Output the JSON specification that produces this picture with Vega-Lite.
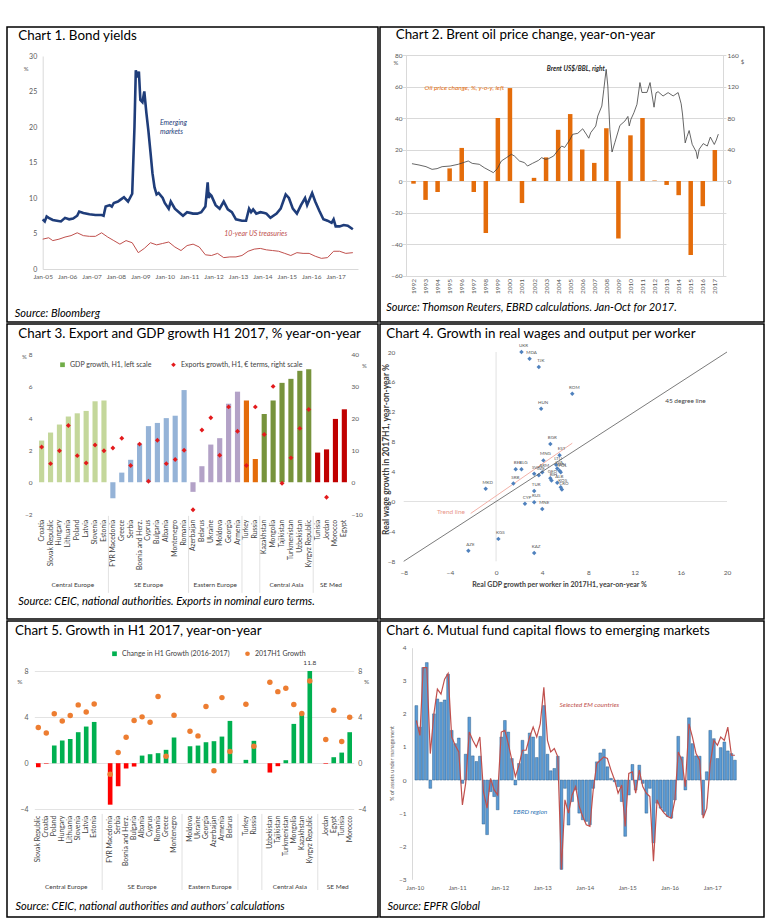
{
"$schema": "https://vega.github.io/schema/vega-lite/v6.json",
"background": "white",
"padding": {"left": 6, "top": 26, "right": 2, "bottom": 2},
"spacing": 0,
"resolve": {"scale": {"color": "independent", "fill": "independent", "shape": "independent"}, "legend": {"color": "independent", "shape": "independent"}},
"config": {
  "view": {"stroke": "#000000", "strokeWidth": 1.5},
  "font": "Lato",
  "axis": {"labelFont": "Lato", "labelColor": "#595959", "titleFont": "Lato", "titleColor": "#595959", "titleFontWeight": "normal", "ticks": false, "domain": false, "grid": false, "labelOverlap": false, "labelFlush": false},
  "legend": {"labelFont": "Lato"},
  "concat": {"spacing": 0}
},
"datasets": {
  "c1em": [
    {"d":"2005-01-01","v":7.0},{"d":"2005-02-01","v":6.7},{"d":"2005-03-01","v":7.4},{"d":"2005-04-01","v":7.2},{"d":"2005-06-01","v":6.9},{"d":"2005-08-01","v":6.8},{"d":"2005-10-01","v":6.7},{"d":"2005-12-01","v":7.2},
    {"d":"2006-02-01","v":7.0},{"d":"2006-04-01","v":7.1},{"d":"2006-06-01","v":7.5},{"d":"2006-07-01","v":8.1},{"d":"2006-09-01","v":7.9},{"d":"2006-12-01","v":7.7},
    {"d":"2007-03-01","v":7.6},{"d":"2007-06-01","v":7.6},{"d":"2007-07-01","v":7.5},{"d":"2007-08-01","v":8.8},{"d":"2007-10-01","v":9.0},{"d":"2007-11-01","v":8.8},{"d":"2007-12-01","v":9.3},
    {"d":"2008-02-01","v":9.5},{"d":"2008-03-01","v":9.7},{"d":"2008-05-01","v":10.1},{"d":"2008-07-01","v":9.5},{"d":"2008-09-01","v":10.6},{"d":"2008-10-05","v":20.0},{"d":"2008-10-25","v":28.0},{"d":"2008-11-15","v":27.0},{"d":"2008-12-10","v":27.8},
    {"d":"2009-01-01","v":23.8},{"d":"2009-02-01","v":23.5},{"d":"2009-03-01","v":25.0},{"d":"2009-04-01","v":22.0},{"d":"2009-05-01","v":19.5},{"d":"2009-06-01","v":16.5},{"d":"2009-07-01","v":13.5},{"d":"2009-08-01","v":11.5},{"d":"2009-09-01","v":10.5},{"d":"2009-10-01","v":10.7},{"d":"2009-12-01","v":10.0},
    {"d":"2010-01-01","v":9.3},{"d":"2010-03-01","v":8.5},{"d":"2010-04-01","v":9.5},{"d":"2010-06-01","v":8.5},{"d":"2010-08-01","v":8.0},{"d":"2010-10-01","v":7.5},{"d":"2010-12-01","v":8.0},
    {"d":"2011-03-01","v":7.8},{"d":"2011-05-01","v":7.8},{"d":"2011-07-01","v":8.0},{"d":"2011-09-01","v":8.8},{"d":"2011-10-05","v":12.2},{"d":"2011-10-20","v":10.0},{"d":"2011-11-10","v":10.5},{"d":"2011-12-01","v":10.3},
    {"d":"2012-02-01","v":9.0},{"d":"2012-04-01","v":8.5},{"d":"2012-06-01","v":9.5},{"d":"2012-08-01","v":8.4},{"d":"2012-10-01","v":8.0},{"d":"2012-12-01","v":7.0},
    {"d":"2013-03-01","v":6.8},{"d":"2013-05-01","v":6.8},{"d":"2013-06-15","v":8.5},{"d":"2013-07-15","v":8.0},{"d":"2013-08-15","v":8.4},{"d":"2013-10-01","v":7.8},{"d":"2013-12-01","v":8.0},
    {"d":"2014-02-01","v":7.9},{"d":"2014-03-01","v":7.8},{"d":"2014-05-01","v":7.2},{"d":"2014-08-01","v":7.8},{"d":"2014-10-01","v":8.5},{"d":"2014-12-15","v":10.5},
    {"d":"2015-02-01","v":10.0},{"d":"2015-04-01","v":8.5},{"d":"2015-06-01","v":7.8},{"d":"2015-08-01","v":9.0},{"d":"2015-10-01","v":10.0},{"d":"2015-11-01","v":9.0},
    {"d":"2016-01-15","v":10.7},{"d":"2016-03-01","v":9.5},{"d":"2016-05-01","v":8.2},{"d":"2016-07-01","v":7.0},{"d":"2016-09-01","v":6.8},{"d":"2016-11-01","v":6.5},{"d":"2016-12-01","v":7.0},
    {"d":"2017-01-01","v":6.0},{"d":"2017-03-01","v":6.0},{"d":"2017-05-01","v":6.2},{"d":"2017-07-01","v":6.1},{"d":"2017-09-15","v":5.6}
  ],
  "c1us": [
    {"d":"2005-01-01","v":4.2},{"d":"2005-04-01","v":4.4},{"d":"2005-06-01","v":4.0},{"d":"2005-09-01","v":4.2},{"d":"2005-12-01","v":4.5},
    {"d":"2006-03-01","v":4.7},{"d":"2006-06-01","v":5.1},{"d":"2006-09-01","v":4.7},{"d":"2006-12-01","v":4.6},
    {"d":"2007-03-01","v":4.6},{"d":"2007-06-01","v":5.1},{"d":"2007-09-01","v":4.5},{"d":"2007-12-01","v":4.0},
    {"d":"2008-03-01","v":3.5},{"d":"2008-06-01","v":4.0},{"d":"2008-09-01","v":3.7},{"d":"2008-12-01","v":2.3},
    {"d":"2009-03-01","v":2.9},{"d":"2009-06-01","v":3.7},{"d":"2009-09-01","v":3.4},{"d":"2009-12-01","v":3.6},
    {"d":"2010-03-01","v":3.8},{"d":"2010-06-01","v":3.1},{"d":"2010-09-01","v":2.6},{"d":"2010-12-01","v":3.3},
    {"d":"2011-03-01","v":3.5},{"d":"2011-06-01","v":3.1},{"d":"2011-09-01","v":2.0},{"d":"2011-12-01","v":1.9},
    {"d":"2012-03-01","v":2.2},{"d":"2012-06-01","v":1.6},{"d":"2012-09-01","v":1.7},{"d":"2012-12-01","v":1.7},
    {"d":"2013-03-01","v":1.9},{"d":"2013-06-01","v":2.5},{"d":"2013-09-01","v":2.8},{"d":"2013-12-01","v":2.9},
    {"d":"2014-03-01","v":2.7},{"d":"2014-06-01","v":2.6},{"d":"2014-09-01","v":2.5},{"d":"2014-12-01","v":2.2},
    {"d":"2015-03-01","v":1.9},{"d":"2015-06-01","v":2.3},{"d":"2015-09-01","v":2.2},{"d":"2015-12-01","v":2.2},
    {"d":"2016-03-01","v":1.8},{"d":"2016-06-01","v":1.5},{"d":"2016-09-01","v":1.6},{"d":"2016-12-01","v":2.5},
    {"d":"2017-03-01","v":2.5},{"d":"2017-06-01","v":2.2},{"d":"2017-09-15","v":2.3}
  ],
  "c2bar": [
    {"d":"1992-07-01","v":-1.7},{"d":"1993-07-01","v":-12},{"d":"1994-07-01","v":-7},{"d":"1995-07-01","v":8},{"d":"1996-07-01","v":21},{"d":"1997-07-01","v":-7},{"d":"1998-07-01","v":-33},{"d":"1999-07-01","v":40},{"d":"2000-07-01","v":59},{"d":"2001-07-01","v":-14},{"d":"2002-07-01","v":2},{"d":"2003-07-01","v":15},{"d":"2004-07-01","v":32.5},
    {"d":"2005-07-01","v":42.5},{"d":"2006-07-01","v":20},{"d":"2007-07-01","v":11.5},{"d":"2008-07-01","v":33.5},{"d":"2009-07-01","v":-36.5},{"d":"2010-07-01","v":29},{"d":"2011-07-01","v":40},{"d":"2012-07-01","v":0.3},{"d":"2013-07-01","v":-2.5},{"d":"2014-07-01","v":-9},{"d":"2015-07-01","v":-47},{"d":"2016-07-01","v":-16},{"d":"2017-07-01","v":19.7}
  ],
  "c2oil": [
    {"d":"1992-05-15","v":22.0},{"d":"1992-12-15","v":20.3},{"d":"1993-07-15","v":18.2},{"d":"1994-01-15","v":14.8},{"d":"1994-06-15","v":15.7},{"d":"1994-11-15","v":18.2},{"d":"1995-07-15","v":19.0},{"d":"1996-03-15","v":21.2},{"d":"1996-08-15","v":23.3},
    {"d":"1997-01-15","v":25.4},{"d":"1997-05-15","v":22.4},{"d":"1997-12-15","v":21.2},{"d":"1998-05-15","v":16.9},{"d":"1998-11-15","v":12.7},{"d":"1999-02-15","v":10.6},{"d":"1999-06-15","v":15.7},{"d":"1999-10-15","v":25.4},
    {"d":"2000-03-15","v":29.6},{"d":"2000-08-15","v":33.9},{"d":"2000-11-15","v":31.7},{"d":"2001-04-15","v":25.4},{"d":"2001-09-15","v":23.3},{"d":"2001-12-15","v":19.0},{"d":"2002-05-15","v":22.4},{"d":"2002-11-15","v":26.2},
    {"d":"2003-02-15","v":29.6},{"d":"2003-06-15","v":27.5},{"d":"2003-09-15","v":28.4},{"d":"2004-02-15","v":31.7},{"d":"2004-05-15","v":36.8},{"d":"2004-10-15","v":44.4},{"d":"2005-01-15","v":42.6},{"d":"2005-06-15","v":52.1},{"d":"2005-09-15","v":59.3},
    {"d":"2006-02-15","v":60.5},{"d":"2006-07-15","v":66.3},{"d":"2006-11-15","v":58.5},{"d":"2007-01-15","v":54.3},{"d":"2007-03-15","v":61.4},{"d":"2007-08-15","v":69.8},{"d":"2007-10-15","v":82.5},
    {"d":"2008-02-15","v":95.2},{"d":"2008-04-15","v":116.4},{"d":"2008-06-25","v":141.8},{"d":"2008-08-15","v":120.6},{"d":"2008-10-15","v":65.6},{"d":"2008-12-20","v":36.8},{"d":"2009-03-15","v":48.7},{"d":"2009-08-15","v":70.5},
    {"d":"2010-01-15","v":76.2},{"d":"2010-04-15","v":82.0},{"d":"2010-05-25","v":70.0},{"d":"2010-07-15","v":78.3},{"d":"2010-10-15","v":86.8},{"d":"2011-01-15","v":97.4},{"d":"2011-04-15","v":125},{"d":"2011-06-15","v":112.4},{"d":"2011-11-15","v":112.5},
    {"d":"2012-02-15","v":125},{"d":"2012-06-15","v":93.7},{"d":"2012-08-15","v":112},{"d":"2012-10-15","v":113.4},{"d":"2013-03-15","v":107.9},{"d":"2013-08-15","v":112.2},
    {"d":"2014-01-15","v":108},{"d":"2014-06-15","v":112.3},{"d":"2014-09-15","v":98},{"d":"2014-10-25","v":85.1},{"d":"2015-01-15","v":48.4},{"d":"2015-03-15","v":56.7},{"d":"2015-05-15","v":64.1},{"d":"2015-08-15","v":46.6},
    {"d":"2015-12-15","v":37.0},{"d":"2016-01-20","v":28.4},{"d":"2016-03-15","v":40.4},{"d":"2016-07-15","v":47.5},{"d":"2016-11-15","v":44.4},{"d":"2017-02-15","v":55.8},{"d":"2017-06-15","v":46.4},{"d":"2017-08-15","v":52.1},{"d":"2017-10-15","v":59.5}
  ],
  "c3": [
    {"country":"Croatia","r":"CE","gdp":2.6,"exp":11.0},{"country":"Slovak Republic","r":"CE","gdp":3.1,"exp":5.8},{"country":"Hungary","r":"CE","gdp":3.6,"exp":9.8},{"country":"Lithuania","r":"CE","gdp":4.1,"exp":17.7},
    {"country":"Poland","r":"CE","gdp":4.3,"exp":8.3},{"country":"Latvia","r":"CE","gdp":4.45,"exp":6.0},{"country":"Slovenia","r":"CE","gdp":5.05,"exp":11.6},{"country":"Estonia","r":"CE","gdp":5.1,"exp":9.8},
    {"country":"FYR Macedonia","r":"SEE","gdp":-1.0,"exp":10.7},{"country":"Greece","r":"SEE","gdp":0.6,"exp":13.7},{"country":"Serbia","r":"SEE","gdp":1.4,"exp":5.2},{"country":"Bosnia and Herz.","r":"SEE","gdp":2.4,"exp":11.9},
    {"country":"Cyprus","r":"SEE","gdp":3.5,"exp":0.3},{"country":"Bulgaria","r":"SEE","gdp":3.7,"exp":13.1},{"country":"Albania","r":"SEE","gdp":4.0,"exp":5.8},{"country":"Montenegro","r":"SEE","gdp":4.15,"exp":7.1},{"country":"Romania","r":"SEE","gdp":5.75,"exp":10.0},
    {"country":"Azerbaijan","r":"EEC","gdp":-0.6,"exp":-8.6},{"country":"Belarus","r":"EEC","gdp":1.0,"exp":16.3},{"country":"Ukraine","r":"EEC","gdp":2.35,"exp":20.1},{"country":"Moldova","r":"EEC","gdp":2.75,"exp":8.4},{"country":"Georgia","r":"EEC","gdp":4.9,"exp":23.5},{"country":"Armenia","r":"EEC","gdp":5.65,"exp":15.9},
    {"country":"Turkey","r":"TR","gdp":5.1,"exp":5.2},{"country":"Russia","r":"TR","gdp":1.45,"exp":23.5},
    {"country":"Kazakhstan","r":"CA","gdp":4.25,"exp":14.9},{"country":"Mongolia","r":"CA","gdp":5.1,"exp":29.9},{"country":"Tajikistan","r":"CA","gdp":6.2,"exp":-0.3},{"country":"Turkmenistan","r":"CA","gdp":6.45,"exp":7.6},{"country":"Uzbekistan","r":"CA","gdp":6.95,"exp":16.8},{"country":"Kyrgyz Republic","r":"CA","gdp":7.05,"exp":22.7},
    {"country":"Tunisia","r":"MED","gdp":1.85,"exp":null},{"country":"Jordan","r":"MED","gdp":2.05,"exp":-4.7},{"country":"Morocco","r":"MED","gdp":3.95,"exp":null},{"country":"Egypt","r":"MED","gdp":4.55,"exp":null}
  ],
  "c4": [
    {"code":"UKR","gx":2.2,"wg":20.0},{"code":"MDA","gx":2.9,"wg":19.1},{"code":"TJK","gx":3.7,"wg":18.0},{"code":"ROM","gx":6.6,"wg":14.4},{"code":"HUN","gx":3.9,"wg":12.4},{"code":"BGR","gx":4.7,"wg":7.7},
    {"code":"EST","gx":5.5,"wg":6.2},{"code":"MNG","gx":4.1,"wg":5.5},{"code":"LTU","gx":5.2,"wg":4.9},{"code":"LVA","gx":5.3,"wg":4.4},{"code":"SVN","gx":5.5,"wg":4.1},{"code":"POL","gx":5.6,"wg":3.9},
    {"code":"BEL","gx":1.7,"wg":4.3},{"code":"BLG","gx":2.2,"wg":4.3},{"code":"SVK","gx":3.3,"wg":3.7},{"code":"CZE","gx":3.7,"wg":3.5},{"code":"ARM","gx":4.0,"wg":3.9},{"code":"GEO","gx":4.7,"wg":3.1},
    {"code":"BIH","gx":4.8,"wg":2.8},{"code":"ALB","gx":5.3,"wg":2.5},{"code":"CRO","gx":5.7,"wg":1.6},{"code":"KOS","gx":5.6,"wg":1.9},{"code":"SRB","gx":1.5,"wg":2.4},{"code":"MKD","gx":-0.9,"wg":1.7},
    {"code":"TUR","gx":3.3,"wg":1.4},{"code":"CYP","gx":2.5,"wg":-0.3},{"code":"RUS","gx":3.3,"wg":-0.1},{"code":"MNE","gx":4.0,"wg":-1.0},{"code":"KGS","gx":0.2,"wg":-5.0},{"code":"AZE","gx":-2.4,"wg":-6.6},{"code":"KAZ","gx":3.3,"wg":-6.9}
  ],
  "c5": [
    {"country":"Slovak Republic","chg":-0.35,"g17":3.1},{"country":"Croatia","chg":-0.05,"g17":2.63},{"country":"Poland","chg":1.53,"g17":4.3},{"country":"Hungary","chg":1.97,"g17":3.67},{"country":"Lithuania","chg":2.11,"g17":4.13},{"country":"Slovenia","chg":2.69,"g17":5.06},{"country":"Latvia","chg":3.18,"g17":4.45},{"country":"Estonia","chg":3.58,"g17":5.14},
    {"country":"FYR Macedonia","chg":-3.6,"g17":-0.95},{"country":"Serbia","chg":-2.0,"g17":0.92},{"country":"Bosnia and Herz.","chg":-0.46,"g17":2.25},{"country":"Bulgaria","chg":-0.29,"g17":3.7},{"country":"Albania","chg":0.66,"g17":4.02},{"country":"Cyprus","chg":0.78,"g17":3.55},{"country":"Romania","chg":0.87,"g17":5.78},{"country":"Greece","chg":1.16,"g17":0.61},{"country":"Montenegro","chg":2.23,"g17":4.16},
    {"country":"Moldova","chg":1.47,"g17":2.77},{"country":"Ukraine","chg":1.53,"g17":2.37},{"country":"Georgia","chg":1.82,"g17":4.91},{"country":"Azerbaijan","chg":1.91,"g17":-0.66},{"country":"Armenia","chg":2.31,"g17":5.69},{"country":"Belarus","chg":3.67,"g17":1.01},
    {"country":"Turkey","chg":0.29,"g17":5.12},{"country":"Russia","chg":1.94,"g17":1.47},
    {"country":"Uzbekistan","chg":-0.81,"g17":7.02},{"country":"Tajikistan","chg":-0.26,"g17":6.21},{"country":"Turkmenistan","chg":0.26,"g17":6.5},{"country":"Mongolia","chg":3.41,"g17":5.09},{"country":"Kazakhstan","chg":4.31,"g17":4.31},{"country":"Kyrgyz Republic","chg":11.8,"g17":7.14},
    {"country":"Jordan","chg":-0.05,"g17":2.05},{"country":"Egypt","chg":0.52,"g17":4.6},{"country":"Tunisia","chg":0.92,"g17":1.88},{"country":"Morocco","chg":2.69,"g17":3.99}
  ],
  "c6": [
    {"d":"2010-01-15","ebrd":2.25,"em":1.8},{"d":"2010-02-15","ebrd":1.6,"em":1.35},{"d":"2010-03-15","ebrd":3.4,"em":3.4},{"d":"2010-04-15","ebrd":3.55,"em":3.4},{"d":"2010-05-15","ebrd":-0.25,"em":0.8},{"d":"2010-06-15","ebrd":2.0,"em":2.0},
    {"d":"2010-07-15","ebrd":2.45,"em":2.75},{"d":"2010-08-15","ebrd":2.35,"em":2.6},{"d":"2010-09-15","ebrd":2.42,"em":3.05},{"d":"2010-10-15","ebrd":3.2,"em":3.22},{"d":"2010-11-15","ebrd":1.5,"em":1.3},{"d":"2010-12-15","ebrd":1.1,"em":1.05},
    {"d":"2011-01-15","ebrd":1.27,"em":0.85},{"d":"2011-02-15","ebrd":-0.1,"em":-0.75},{"d":"2011-03-15","ebrd":0.78,"em":-0.1},{"d":"2011-04-15","ebrd":1.9,"em":1.45},{"d":"2011-05-15","ebrd":0.73,"em":1.2},{"d":"2011-06-15","ebrd":0.56,"em":1.0},
    {"d":"2011-07-15","ebrd":0.72,"em":1.3},{"d":"2011-08-15","ebrd":-1.33,"em":-0.35},{"d":"2011-09-15","ebrd":-1.65,"em":-0.85},{"d":"2011-10-15","ebrd":-0.35,"em":0.05},{"d":"2011-11-15","ebrd":-0.5,"em":-0.3},{"d":"2011-12-15","ebrd":-0.9,"em":-0.45},
    {"d":"2012-01-15","ebrd":1.3,"em":1.45},{"d":"2012-02-15","ebrd":1.8,"em":1.5},{"d":"2012-03-15","ebrd":1.45,"em":1.1},{"d":"2012-04-15","ebrd":0.65,"em":0.6},{"d":"2012-05-15","ebrd":-0.15,"em":0.1},{"d":"2012-06-15","ebrd":0.5,"em":0.45},
    {"d":"2012-07-15","ebrd":1.2,"em":0.9},{"d":"2012-08-15","ebrd":0.78,"em":0.9},{"d":"2012-09-15","ebrd":1.42,"em":1.3},{"d":"2012-10-15","ebrd":1.3,"em":1.6},{"d":"2012-11-15","ebrd":0.68,"em":1.3},{"d":"2012-12-15","ebrd":1.32,"em":1.7},
    {"d":"2013-01-15","ebrd":2.25,"em":2.8},{"d":"2013-02-15","ebrd":0.78,"em":1.2},{"d":"2013-03-15","ebrd":0.28,"em":0.85},{"d":"2013-04-15","ebrd":0.35,"em":0.95},{"d":"2013-05-15","ebrd":0.72,"em":0.7},{"d":"2013-06-15","ebrd":-2.7,"em":-2.7},
    {"d":"2013-07-15","ebrd":-0.25,"em":-0.6},{"d":"2013-08-15","ebrd":-1.36,"em":-1.0},{"d":"2013-09-15","ebrd":-0.65,"em":-0.45},{"d":"2013-10-15","ebrd":-0.3,"em":-0.2},{"d":"2013-11-15","ebrd":-1.0,"em":-0.8},{"d":"2013-12-15","ebrd":-1.2,"em":-1.1},
    {"d":"2014-01-15","ebrd":-1.25,"em":-1.35},{"d":"2014-02-15","ebrd":-1.35,"em":-1.4},{"d":"2014-03-15","ebrd":-0.25,"em":-0.3},{"d":"2014-04-15","ebrd":0.55,"em":0.5},{"d":"2014-05-15","ebrd":0.82,"em":0.6},{"d":"2014-06-15","ebrd":0.93,"em":0.7},
    {"d":"2014-07-15","ebrd":0.4,"em":0.65},{"d":"2014-08-15","ebrd":0.05,"em":0.3},{"d":"2014-09-15","ebrd":-0.05,"em":0.0},{"d":"2014-10-15","ebrd":-0.2,"em":-0.4},{"d":"2014-11-15","ebrd":-0.65,"em":-0.15},{"d":"2014-12-15","ebrd":-1.7,"em":-1.4},
    {"d":"2015-01-15","ebrd":-0.45,"em":0.2},{"d":"2015-02-15","ebrd":0.47,"em":0.25},{"d":"2015-03-15","ebrd":-0.3,"em":-0.4},{"d":"2015-04-15","ebrd":0.45,"em":0.3},{"d":"2015-05-15","ebrd":-0.1,"em":-0.2},{"d":"2015-06-15","ebrd":-1.0,"em":-0.4},
    {"d":"2015-07-15","ebrd":-0.25,"em":-0.5},{"d":"2015-08-15","ebrd":-1.9,"em":-2.45},{"d":"2015-09-15","ebrd":-0.7,"em":-0.6},{"d":"2015-10-15","ebrd":-0.85,"em":-0.85},{"d":"2015-11-15","ebrd":-0.95,"em":-1.0},{"d":"2015-12-15","ebrd":-1.1,"em":-1.1},
    {"d":"2016-01-15","ebrd":-1.15,"em":-1.15},{"d":"2016-02-15","ebrd":-0.6,"em":-0.6},{"d":"2016-03-15","ebrd":1.32,"em":0.85},{"d":"2016-04-15","ebrd":0.7,"em":0.6},{"d":"2016-05-15","ebrd":-0.3,"em":-0.2},{"d":"2016-06-15","ebrd":1.88,"em":1.7},
    {"d":"2016-07-15","ebrd":1.1,"em":1.3},{"d":"2016-08-15","ebrd":0.73,"em":0.8},{"d":"2016-09-15","ebrd":0.72,"em":0.6},{"d":"2016-10-15","ebrd":-1.05,"em":-1.15},{"d":"2016-11-15","ebrd":0.25,"em":-0.85},{"d":"2016-12-15","ebrd":1.5,"em":0.5},
    {"d":"2017-01-15","ebrd":1.25,"em":1.2},{"d":"2017-02-15","ebrd":0.65,"em":1.05},{"d":"2017-03-15","ebrd":0.98,"em":1.3},{"d":"2017-04-15","ebrd":1.15,"em":1.2},{"d":"2017-05-15","ebrd":0.88,"em":1.6},{"d":"2017-06-15","ebrd":0.8,"em":0.75},{"d":"2017-07-15","ebrd":0.6,"em":0.75}
  ]
},
"vconcat": [
 {"hconcat": [
  {
    "width": 371, "height": 295,
    "title": {"text": "Chart 1. Bond yields", "orient": "bottom", "anchor": "start", "frame": "group", "baseline": "alphabetic", "offset": -282.5, "dx": 11.3, "font": "Lato", "fontSize": 13.4, "fontWeight": "normal", "color": "#000000"},
    "encoding": {
      "x": {"field": "d", "type": "temporal", "title": "Source: Bloomberg",
        "scale": {"type": "utc", "domain": [{"year": 2005, "month": 1, "date": 1, "utc": true}, {"year": 2017, "month": 12, "date": 1, "utc": true}], "range": [35.7, 351]},
        "axis": {"offset": -53, "format": "%b-%y", "tickCount": {"interval": "year", "step": 1}, "labelFontSize": 6.5, "labelPadding": 4, "domain": true, "domainColor": "#d9d9d9",
          "titleX": 7.3, "titleY": 47, "titleAlign": "left", "titleBaseline": "alphabetic", "titleFontSize": 11, "titleFontStyle": "italic", "titleColor": "#000000"}},
      "y": {"field": "v", "type": "quantitative", "title": "%",
        "scale": {"domain": [0, 30], "range": [242, 29], "nice": false, "zero": false},
        "axis": {"offset": -35.7, "values": [0, 5, 10, 15, 20, 25, 30], "labelFontSize": 7, "labelPadding": 6, "domain": true, "domainColor": "#d9d9d9", "titleAngle": 0, "titleX": -17, "titleY": 41, "titleAlign": "center", "titleBaseline": "middle", "titleFontSize": 6}}
    },
    "layer": [
      {"data": {"name": "c1us"}, "mark": {"type": "line", "color": "#c0504d", "strokeWidth": 1}},
      {"data": {"name": "c1em"}, "mark": {"type": "line", "color": "#1f3d7a", "strokeWidth": 2.6}},
      {"data": {"values": [{"d": "2009-10-20", "v": 20.6, "t": "Emerging\nmarkets", "c": "em"}, {"d": "2012-06-10", "v": 5.0, "t": "10-year US treasuries", "c": "us"}]},
       "mark": {"type": "text", "fontStyle": "italic", "fontSize": 7, "lineBreak": "\n", "align": "left"},
       "encoding": {"text": {"field": "t"}, "color": {"field": "c", "type": "nominal", "scale": {"domain": ["em", "us"], "range": ["#1f3d7a", "#c0504d"]}, "legend": null}}}
    ]
  },
  {
    "width": 384, "height": 295,
    "title": {"text": "Chart 2. Brent oil price change, year-on-year", "orient": "bottom", "anchor": "start", "frame": "group", "baseline": "alphabetic", "offset": -282.7, "dx": 15.7, "font": "Lato", "fontSize": 13.4, "fontWeight": "normal", "color": "#000000"},
    "encoding": {
      "x": {"field": "d", "type": "temporal", "title": "Source: Thomson Reuters, EBRD calculations. Jan-Oct for 2017.",
        "scale": {"type": "utc", "domain": [{"year": 1992, "month": 1, "date": 1, "utc": true}, {"year": 2018, "month": 1, "date": 1, "utc": true}], "range": [22.5, 345.9]},
        "axis": {"offset": -46.5, "format": "%Y", "labelAngle": -90, "labelFontSize": 6.5, "labelPadding": 3,
          "titleX": 5.7, "titleY": 34.5, "titleAlign": "left", "titleBaseline": "alphabetic", "titleFontSize": 11, "titleFontStyle": "italic", "titleColor": "#000000",
          "values": [{"year":1992,"month":7,"date":1,"utc":true},{"year":1993,"month":7,"date":1,"utc":true},{"year":1994,"month":7,"date":1,"utc":true},{"year":1995,"month":7,"date":1,"utc":true},{"year":1996,"month":7,"date":1,"utc":true},{"year":1997,"month":7,"date":1,"utc":true},{"year":1998,"month":7,"date":1,"utc":true},{"year":1999,"month":7,"date":1,"utc":true},{"year":2000,"month":7,"date":1,"utc":true},{"year":2001,"month":7,"date":1,"utc":true},{"year":2002,"month":7,"date":1,"utc":true},{"year":2003,"month":7,"date":1,"utc":true},{"year":2004,"month":7,"date":1,"utc":true},{"year":2005,"month":7,"date":1,"utc":true},{"year":2006,"month":7,"date":1,"utc":true},{"year":2007,"month":7,"date":1,"utc":true},{"year":2008,"month":7,"date":1,"utc":true},{"year":2009,"month":7,"date":1,"utc":true},{"year":2010,"month":7,"date":1,"utc":true},{"year":2011,"month":7,"date":1,"utc":true},{"year":2012,"month":7,"date":1,"utc":true},{"year":2013,"month":7,"date":1,"utc":true},{"year":2014,"month":7,"date":1,"utc":true},{"year":2015,"month":7,"date":1,"utc":true},{"year":2016,"month":7,"date":1,"utc":true},{"year":2017,"month":7,"date":1,"utc":true}]}}
    },
    "layer": [
      {"layer": [
        {"data": {"name": "c2bar"}, "mark": {"type": "bar", "color": "#e46c0a", "width": 4.5},
         "encoding": {"y": {"field": "v", "type": "quantitative", "title": "%",
           "scale": {"domain": [-60, 80], "range": [248.5, 28], "nice": false, "zero": false},
           "axis": {"offset": -26, "values": [-60, -40, -20, 0, 20, 40, 60, 80], "grid": true, "gridColor": "#d9d9d9", "domain": true, "domainColor": "#d9d9d9", "labelFontSize": 6.5, "labelPadding": 4, "titleAngle": 0, "titleX": -10.7, "titleY": 35, "titleAlign": "center", "titleBaseline": "middle", "titleFontSize": 6}}}},
        {"data": {"values": [{"d": "1996-09-20", "v": 58.9, "t": "Oil price change, %, y-o-y, left"}]},
         "mark": {"type": "text", "color": "#e46c0a", "fontStyle": "italic", "fontSize": 6.5},
         "encoding": {"y": {"field": "v", "type": "quantitative"}, "text": {"field": "t"}}}
      ]},
      {"layer": [
        {"data": {"name": "c2oil"}, "mark": {"type": "line", "color": "#404040", "strokeWidth": 0.8},
         "encoding": {"y": {"field": "v", "type": "quantitative", "title": "$",
           "scale": {"domain": [-120, 160], "range": [248.5, 28], "nice": false, "zero": false},
           "axis": {"orient": "right", "offset": -41, "values": [0, 20, 40, 60, 80, 100, 120, 140, 160], "domain": true, "domainColor": "#d9d9d9", "labelFontSize": 6.5, "labelPadding": 4, "titleAngle": 0, "titleX": 19, "titleY": 34, "titleAlign": "center", "titleBaseline": "middle", "titleFontSize": 6}}}},
        {"data": {"values": [{"d": "2005-12-20", "v": 141.8, "t": "Brent US$/BBL, right"}]},
         "mark": {"type": "text", "color": "#262626", "fontStyle": "italic", "fontWeight": "bold", "fontSize": 6.5},
         "encoding": {"y": {"field": "v", "type": "quantitative"}, "text": {"field": "t"}}}
      ]}
    ],
    "resolve": {"scale": {"y": "independent"}}
  }
 ],
 "resolve": {"scale": {"color": "independent", "fill": "independent", "shape": "independent"}, "legend": {"color": "independent", "shape": "independent"}}},
 {"hconcat": [
  {
    "width": 371, "height": 295,
    "title": {"text": "Chart 3. Export and GDP growth H1 2017, % year-on-year", "orient": "bottom", "anchor": "start", "frame": "group", "baseline": "alphabetic", "offset": -281.3, "dx": 11.3, "font": "Lato", "fontSize": 13.4, "fontWeight": "normal", "color": "#000000"},
    "encoding": {
      "x": {"field": "country", "type": "nominal", "title": "Source: CEIC, national authorities. Exports in nominal euro terms.",
        "scale": {"domain": ["Croatia","Slovak Republic","Hungary","Lithuania","Poland","Latvia","Slovenia","Estonia","FYR Macedonia","Greece","Serbia","Bosnia and Herz.","Cyprus","Bulgaria","Albania","Montenegro","Romania","Azerbaijan","Belarus","Ukraine","Moldova","Georgia","Armenia","Turkey","Russia","Kazakhstan","Mongolia","Tajikistan","Turkmenistan","Uzbekistan","Kyrgyz Republic","Tunisia","Jordan","Morocco","Egypt"], "range": [30.2, 341.8], "paddingInner": 0.42, "paddingOuter": 0.21},
        "axis": {"offset": -104.7, "labelAngle": -90, "labelFontSize": 6.8, "labelPadding": 5, "labelColor": "#404040",
          "titleX": 10.7, "titleY": 89.7, "titleAlign": "left", "titleBaseline": "alphabetic", "titleFontSize": 11, "titleFontStyle": "italic", "titleColor": "#000000"}}
    },
    "layer": [
      {"layer": [
        {"data": {"name": "c3"}, "mark": {"type": "bar"},
         "encoding": {"y": {"field": "gdp", "type": "quantitative", "title": "%",
           "scale": {"domain": [-2, 8], "range": [190.3, 30], "nice": false, "zero": false},
           "axis": {"offset": -28, "values": [-2, 0, 2, 4, 6, 8], "labelFontSize": 6.5, "labelPadding": 3, "titleAngle": 0, "titleX": -11, "titleY": 32, "titleAlign": "center", "titleBaseline": "middle", "titleFontSize": 6}},
          "fill": {"field": "r", "type": "nominal", "scale": {"domain": ["CE", "SEE", "EEC", "TR", "CA", "MED"], "range": ["#c4d79b", "#95b3d7", "#b3a2c7", "#e46c0a", "#77933c", "#c00000"]}, "legend": null}}},
        {"data": {"values": [{"country": "Poland", "g": "Central Europe"}, {"country": "Moldova", "g": "Eastern Europe"}, {"country": "Turkmenistan", "g": "Central Asia"}, {"country": "Morocco", "g": "SE Med"}]},
         "mark": {"type": "text", "fontSize": 6.5, "color": "#404040"},
         "encoding": {"x": {"field": "country", "type": "nominal", "bandPosition": -0.36, "title": "Source: CEIC, national authorities. Exports in nominal euro terms."}, "y": {"datum": -6.41, "type": "quantitative"}, "text": {"field": "g"}}},
        {"data": {"values": [{"country": "Cyprus", "g": "SE Europe"}]},
         "mark": {"type": "text", "fontSize": 6.5, "color": "#404040"},
         "encoding": {"x": {"field": "country", "type": "nominal", "title": "Source: CEIC, national authorities. Exports in nominal euro terms."}, "y": {"datum": -6.41, "type": "quantitative"}, "text": {"field": "g"}}},
        {"data": {"values": [{"country": "FYR Macedonia"}, {"country": "Azerbaijan"}, {"country": "Turkey"}, {"country": "Kazakhstan"}, {"country": "Tunisia"}]},
         "mark": {"type": "rule", "color": "#d9d9d9", "strokeWidth": 0.8},
         "encoding": {"x": {"field": "country", "type": "nominal", "bandPosition": -0.36, "title": "Source: CEIC, national authorities. Exports in nominal euro terms."}, "y": {"datum": -2.1, "type": "quantitative"}, "y2": {"datum": -6.9}}}
      ]},
      {"data": {"name": "c3"}, "transform": [{"fold": ["exp"], "as": ["k", "val"]}, {"filter": "isValid(datum.val)"}],
       "mark": {"type": "point", "filled": true, "size": 24, "opacity": 1},
       "encoding": {"y": {"field": "val", "type": "quantitative", "title": "%",
         "scale": {"domain": [-10, 40], "range": [190.3, 30], "nice": false, "zero": false},
         "axis": {"orient": "right", "offset": -30, "values": [-10, 0, 10, 20, 30, 40], "labelFontSize": 6.5, "labelPadding": 3, "titleAngle": 0, "titleX": 16, "titleY": 41, "titleAlign": "center", "titleBaseline": "middle", "titleFontSize": 6}},
        "color": {"field": "k", "type": "nominal",
          "scale": {"domain": ["gdp", "exp"], "range": ["#70ad47", "#e31a1c"]},
          "legend": {"orient": "none", "legendX": 52, "legendY": 37, "direction": "horizontal", "title": null, "labelFontSize": 7, "labelColor": "#404040", "symbolSize": 22, "columnPadding": 18, "labelLimit": 300, "symbolStrokeWidth": 0,
            "labelExpr": "datum.label === 'gdp' ? 'GDP growth, H1, left scale' : 'Exports growth, H1, € terms, right scale'"}},
        "shape": {"field": "k", "type": "nominal",
          "scale": {"domain": ["gdp", "exp"], "range": ["square", "diamond"]},
          "legend": {"orient": "none", "legendX": 52, "legendY": 37, "direction": "horizontal", "title": null, "labelFontSize": 7, "labelColor": "#404040", "symbolSize": 22, "columnPadding": 18, "labelLimit": 300, "symbolStrokeWidth": 0,
            "labelExpr": "datum.label === 'gdp' ? 'GDP growth, H1, left scale' : 'Exports growth, H1, € terms, right scale'"}}}}
    ],
    "resolve": {"scale": {"y": "independent"}}
  },
  {
    "width": 384, "height": 295,
    "title": {"text": "Chart 4. Growth in real wages and output per worker", "orient": "bottom", "anchor": "start", "frame": "group", "baseline": "alphabetic", "offset": -281.3, "dx": 6.3, "font": "Lato", "fontSize": 13.4, "fontWeight": "normal", "color": "#000000"},
    "layer": [
      {"layer": [
        {"data": {"values": [{}]}, "mark": {"type": "rule", "color": "#d9d9d9", "strokeWidth": 0.8},
         "encoding": {"x": {"datum": 0, "type": "quantitative"}, "y": {"datum": -8, "type": "quantitative"}, "y2": {"datum": 20}}},
        {"data": {"values": [{}]}, "mark": {"type": "rule", "color": "#d9d9d9", "strokeWidth": 0.8},
         "encoding": {"y": {"datum": 0, "type": "quantitative"}, "x": {"datum": -8, "type": "quantitative"}, "x2": {"datum": 20}}},
        {"data": {"values": [{}]}, "mark": {"type": "rule", "color": "#f2b1a8", "strokeWidth": 1},
         "encoding": {"x": {"datum": -2.2, "type": "quantitative"}, "y": {"datum": -1.6, "type": "quantitative"}, "x2": {"datum": 6.6}, "y2": {"datum": 7.8}}},
        {"data": {"name": "c4"}, "mark": {"type": "point", "shape": "diamond", "filled": true, "color": "#4f81bd", "size": 20, "opacity": 1},
         "encoding": {
           "x": {"field": "gx", "type": "quantitative", "title": "Real GDP growth per worker in 2017H1, year-on-year %",
             "scale": {"domain": [-8, 20], "range": [23.7, 347], "nice": false, "zero": false},
             "axis": {"offset": -57.7, "values": [-8, -4, 0, 4, 8, 12, 16, 20], "labelFontSize": 6.5, "labelPadding": 8, "titleFontSize": 7, "titleFontWeight": "bold", "titleColor": "#404040", "titleX": 179, "titleY": 22.7, "titleAlign": "center", "titleBaseline": "middle"}},
           "y": {"field": "wg", "type": "quantitative", "title": "Real wage growth in 2017H1, year-on-year %",
             "scale": {"domain": [-8, 20], "range": [237.3, 28], "nice": false, "zero": false},
             "axis": {"offset": -23.7, "values": [-8, -4, 0, 4, 8, 12, 16, 20], "labelFontSize": 6.5, "labelPadding": 9, "titleFontSize": 8.5, "titleFontWeight": "bold", "titleColor": "#404040", "titleAngle": -90, "titleX": -18.7, "titleY": 125, "titleAlign": "center", "titleBaseline": "middle"}}}},
        {"data": {"name": "c4"}, "mark": {"type": "text", "fontSize": 4.5, "color": "#595959", "dy": -6, "dx": 2},
         "encoding": {"x": {"field": "gx", "type": "quantitative"}, "y": {"field": "wg", "type": "quantitative"}, "text": {"field": "code"}}},
        {"data": {"values": [{"gx": 16.4, "wg": 13.5, "t": "45 degree line", "c": "k"}, {"gx": -3.9, "wg": -1.4, "t": "Trend line", "c": "r"}]},
         "mark": {"type": "text", "fontSize": 6.5},
         "encoding": {"x": {"field": "gx", "type": "quantitative"}, "y": {"field": "wg", "type": "quantitative"}, "text": {"field": "t"},
           "color": {"field": "c", "type": "nominal", "scale": {"domain": ["k", "r"], "range": ["#404040", "#e8958c"]}, "legend": null}}}
      ]},
      {"layer": [
        {"data": {"values": [{}]}, "mark": {"type": "rule", "color": "#595959", "strokeWidth": 0.8},
         "encoding": {"x": {"datum": -8, "type": "quantitative", "title": "Source: CEIC, national authorities and authors’ calculations",
             "axis": {"orient": "bottom", "offset": 0, "labels": false, "domain": false, "grid": false, "ticks": false,
               "titleX": 5.7, "titleY": -15, "titleAlign": "left", "titleBaseline": "alphabetic", "titleFontSize": 11, "titleFontStyle": "italic", "titleFontWeight": "normal", "titleColor": "#000000"}},
           "y": {"datum": -8, "type": "quantitative"}, "x2": {"datum": 20}, "y2": {"datum": 20}}}
      ]}
    ],
    "resolve": {"axis": {"x": "independent"}}
  }
 ],
 "resolve": {"scale": {"color": "independent", "fill": "independent", "shape": "independent"}, "legend": {"color": "independent", "shape": "independent"}}},
 {"hconcat": [
  {
    "width": 371, "height": 296,
    "title": {"text": "Chart 5. Growth in H1 2017, year-on-year", "orient": "bottom", "anchor": "start", "frame": "group", "baseline": "alphabetic", "offset": -282, "dx": 8, "font": "Lato", "fontSize": 13.4, "fontWeight": "normal", "color": "#000000"},
    "encoding": {
      "x": {"field": "country", "type": "nominal", "title": "Source: CEIC, national authorities and authors’ calculations",
        "scale": {"domain": ["Slovak Republic","Croatia","Poland","Hungary","Lithuania","Slovenia","Latvia","Estonia","_1","FYR Macedonia","Serbia","Bosnia and Herz.","Bulgaria","Albania","Cyprus","Romania","Greece","Montenegro","_2","Moldova","Ukraine","Georgia","Azerbaijan","Armenia","Belarus","_3","Turkey","Russia","_4","Uzbekistan","Tajikistan","Turkmenistan","Mongolia","Kazakhstan","Kyrgyz Republic","_5","Jordan","Egypt","Tunisia","Morocco"], "range": [27.3, 346.7], "paddingInner": 0.42, "paddingOuter": 0.21},
        "axis": {"offset": -107.7, "labelAngle": -90, "labelFontSize": 6.8, "labelPadding": 6, "labelColor": "#404040", "labelExpr": "indexof(datum.label, '_') === 0 ? '' : datum.label",
          "titleX": 8, "titleY": 100, "titleAlign": "left", "titleBaseline": "alphabetic", "titleFontSize": 11, "titleFontStyle": "italic", "titleColor": "#000000"}}
    },
    "layer": [
      {"layer": [
        {"data": {"name": "c5"}, "mark": {"type": "bar"},
         "encoding": {"y": {"field": "chg", "type": "quantitative", "title": "%",
           "scale": {"domain": [-4, 8], "range": [188.3, 50], "nice": false, "zero": false, "clamp": true},
           "axis": {"offset": -27, "values": [-4, 0, 4, 8], "grid": true, "gridColor": "#e3e3e3", "labelFontSize": 7, "labelPadding": 6, "titleAngle": 0, "titleX": -14.7, "titleY": 60.7, "titleAlign": "center", "titleBaseline": "middle", "titleFontSize": 6.5}},
          "fill": {"condition": {"test": "datum.chg < 0", "value": "#ff0000"}, "value": "#00b050"}}},
        {"data": {"name": "c5"}, "transform": [{"fold": ["g17"], "as": ["k", "val"]}],
         "mark": {"type": "point", "filled": true, "size": 30, "opacity": 1},
         "encoding": {"y": {"field": "val", "type": "quantitative", "title": "%",
           "axis": {"orient": "right", "offset": -24.3, "values": [-4, 0, 4, 8], "labelFontSize": 7, "labelPadding": 4, "titleAngle": 0, "titleX": 12.3, "titleY": 60.7, "titleAlign": "center", "titleBaseline": "middle", "titleFontSize": 6.5}},
          "color": {"field": "k", "type": "nominal",
            "scale": {"domain": ["chg", "g17"], "range": ["#00b050", "#ed7d31"]},
            "legend": {"orient": "none", "legendX": 104, "legendY": 29, "direction": "horizontal", "title": null, "labelFontSize": 7, "labelColor": "#404040", "symbolSize": 22, "columnPadding": 14, "labelLimit": 300, "symbolStrokeWidth": 0,
              "labelExpr": "datum.label === 'chg' ? 'Change in H1 Growth (2016-2017)' : '2017H1 Growth'"}},
          "shape": {"field": "k", "type": "nominal",
            "scale": {"domain": ["chg", "g17"], "range": ["square", "circle"]},
            "legend": {"orient": "none", "legendX": 104, "legendY": 29, "direction": "horizontal", "title": null, "labelFontSize": 7, "labelColor": "#404040", "symbolSize": 22, "columnPadding": 14, "labelLimit": 300, "symbolStrokeWidth": 0,
              "labelExpr": "datum.label === 'chg' ? 'Change in H1 Growth (2016-2017)' : '2017H1 Growth'"}}}},
        {"data": {"name": "c5"}, "transform": [{"filter": "datum.chg > 8"}],
         "mark": {"type": "text", "dy": -8, "fontSize": 6.5, "color": "#404040"},
         "encoding": {"y": {"field": "chg", "type": "quantitative", "axis": null}, "text": {"field": "chg", "type": "quantitative", "format": ".1f"}}}
       ],
       "resolve": {"axis": {"y": "independent"}}},
      {"layer": [
        {"data": {"values": [{"country": "Lithuania", "g": "Central Europe"}, {"country": "Azerbaijan", "g": "Eastern Europe"}, {"country": "Mongolia", "g": "Central Asia"}, {"country": "Tunisia", "g": "SE Med"}]},
         "mark": {"type": "text", "fontSize": 6.5, "color": "#404040"},
         "encoding": {"x": {"field": "country", "type": "nominal", "bandPosition": -0.36, "title": "Source: CEIC, national authorities and authors’ calculations"},
           "y": {"datum": -10.72, "type": "quantitative", "scale": {"domain": [-4, 8], "range": [188.3, 50], "nice": false, "zero": false}, "axis": null},
           "text": {"field": "g"}}},
        {"data": {"values": [{"country": "Albania", "g": "SE Europe"}]},
         "mark": {"type": "text", "fontSize": 6.5, "color": "#404040"},
         "encoding": {"x": {"field": "country", "type": "nominal", "title": "Source: CEIC, national authorities and authors’ calculations"}, "y": {"datum": -10.72, "type": "quantitative", "axis": null}, "text": {"field": "g"}}},
        {"data": {"values": [{"country": "_1"}, {"country": "_2"}, {"country": "_3"}, {"country": "_4"}, {"country": "_5"}]},
         "mark": {"type": "rule", "color": "#d9d9d9", "strokeWidth": 0.8},
         "encoding": {"x": {"field": "country", "type": "nominal", "title": "Source: CEIC, national authorities and authors’ calculations"}, "y": {"datum": -4.4, "type": "quantitative", "axis": null}, "y2": {"datum": -11}}}
      ]}
    ],
    "resolve": {"scale": {"y": "independent"}}
  },
  {
    "width": 384, "height": 296,
    "title": {"text": "Chart 6. Mutual fund capital flows to emerging markets", "orient": "bottom", "anchor": "start", "frame": "group", "baseline": "alphabetic", "offset": -282, "dx": 6.3, "font": "Lato", "fontSize": 13.4, "fontWeight": "normal", "color": "#000000"},
    "encoding": {
      "x": {"field": "d", "type": "temporal", "title": "Source: EPFR Global",
        "scale": {"type": "utc", "domain": [{"year": 2010, "month": 1, "date": 1, "utc": true}, {"year": 2017, "month": 9, "date": 1, "utc": true}], "range": [29.7, 365.5]},
        "axis": {"offset": -37.7, "format": "%b-%y", "tickCount": {"interval": "year", "step": 1}, "labelFontSize": 6, "labelPadding": 5,
          "titleX": 7, "titleY": 30, "titleAlign": "left", "titleBaseline": "alphabetic", "titleFontSize": 11, "titleFontStyle": "italic", "titleColor": "#000000"}}
    },
    "layer": [
      {"data": {"name": "c6"}, "mark": {"type": "bar", "width": 2.8, "fill": "#5b9bd5", "stroke": "#1f4e79", "strokeWidth": 0.4},
       "encoding": {"y": {"field": "ebrd", "type": "quantitative", "title": "% of assets under management",
         "scale": {"domain": [-3, 4], "range": [258.3, 26.7], "nice": false, "zero": false},
         "axis": {"offset": -32, "values": [-3, -2, -1, 0, 1, 2, 3, 4], "domain": true, "domainColor": "#d9d9d9", "labelFontSize": 6.5, "labelPadding": 6, "titleFontSize": 5.5, "titleAngle": -90, "titleX": -21, "titleY": 142, "titleAlign": "center", "titleBaseline": "middle"}}}},
      {"data": {"name": "c6"}, "mark": {"type": "line", "color": "#c0504d", "strokeWidth": 1.2},
       "encoding": {"y": {"field": "em", "type": "quantitative"}}},
      {"data": {"values": [{}]}, "mark": {"type": "rule", "color": "#1f3864", "strokeWidth": 1.3},
       "encoding": {"y": {"datum": 0, "type": "quantitative"}, "x": {"datum": {"year": 2010, "month": 1, "date": 12, "utc": true}, "type": "temporal"}, "x2": {"datum": {"year": 2017, "month": 7, "date": 19, "utc": true}}}},
      {"data": {"values": [{"d": "2014-02-10", "ebrd": 2.27, "t": "Selected EM countries", "c": "r"}, {"d": "2012-09-20", "ebrd": -0.98, "t": "EBRD region", "c": "b"}]},
       "mark": {"type": "text", "fontStyle": "italic", "fontSize": 6.5},
       "encoding": {"y": {"field": "ebrd", "type": "quantitative"}, "text": {"field": "t"},
         "color": {"field": "c", "type": "nominal", "scale": {"domain": ["r", "b"], "range": ["#c0504d", "#2e75b6"]}, "legend": null}}}
    ]
  }
 ],
 "resolve": {"scale": {"color": "independent", "fill": "independent", "shape": "independent"}, "legend": {"color": "independent", "shape": "independent"}}}
]
}
